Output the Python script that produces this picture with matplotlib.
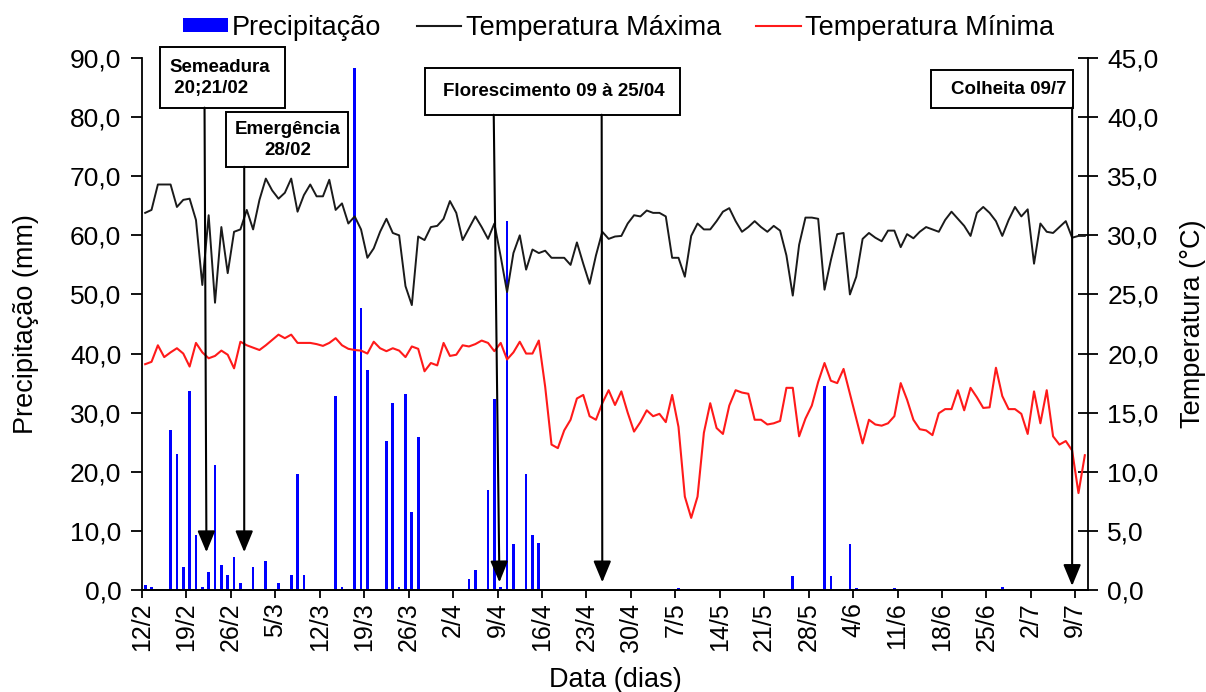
import matplotlib.pyplot as plt
import numpy as np
from matplotlib.patches import Patch, Rectangle
from matplotlib.lines import Line2D
from matplotlib.ticker import FuncFormatter

plt.rcParams['font.family'] = ['Liberation Sans', 'DejaVu Sans']

# dias desde 12/2 (149 dias, até 10/7)
tick_labels = ['12/2', '19/2', '26/2', '5/3', '12/3', '19/3', '26/3', '2/4', '9/4', '16/4', '23/4',
               '30/4', '7/5', '14/5', '21/5', '28/5', '4/6', '11/6', '18/6', '25/6', '2/7', '9/7']

precipitacao = [
    0.8, 0.5, 0, 0, 27.1, 23.0, 3.9, 33.7, 9.3, 0.5,
    3.1, 21.2, 4.3, 2.5, 5.6, 1.2, 0, 3.9, 0, 4.9,
    0, 1.2, 0, 2.6, 19.6, 2.5, 0, 0, 0, 0,
    32.8, 0.5, 0, 88.3, 47.7, 37.2, 0, 0, 25.2, 31.6,
    0.5, 33.1, 13.2, 25.9, 0, 0, 0, 0, 0, 0,
    0, 1.8, 3.4, 0, 16.9, 32.3, 0.5, 62.5, 7.8, 0,
    19.7, 9.3, 8.0, 0, 0, 0, 0, 0, 0, 0,
    0, 0, 0, 0, 0, 0, 0, 0, 0, 0,
    0, 0, 0, 0, 0.3, 0, 0, 0, 0, 0,
    0, 0, 0, 0, 0, 0, 0, 0, 0, 0,
    0, 0, 2.4, 0, 0, 0, 0, 34.5, 2.4, 0,
    0.2, 7.8, 0.3, 0, 0, 0, 0, 0, 0.3, 0,
    0, 0, 0, 0, 0, 0, 0, 0, 0, 0,
    0, 0, 0, 0, 0, 0.5, 0, 0, 0, 0,
    0, 0, 0, 0, 0, 0, 0, 0, 0]

temp_max = [
    31.9, 32.15, 34.3, 34.3, 34.3, 32.4, 33.0, 33.1, 31.3, 25.8,
    31.7, 24.3, 30.7, 26.8, 30.3, 30.5, 32.15, 30.5, 33.0, 34.8,
    33.8, 33.1, 33.6, 34.8, 32.0, 33.4, 34.3, 33.3, 33.3, 34.7,
    32.15, 32.7, 31.0, 31.6, 30.5, 28.1, 28.9, 30.3, 31.4, 30.2,
    30.0, 25.7, 24.1, 29.9, 29.6, 30.7, 30.8, 31.4, 32.9, 31.9,
    29.6, 30.6, 31.6, 30.7, 29.7, 31.0, 28.2, 25.2, 28.5, 30.0,
    27.1, 28.8, 28.5, 28.7, 28.1, 28.1, 28.1, 27.5, 29.4, 27.6,
    25.9, 28.3, 30.3, 29.7, 29.9, 29.95, 31.0, 31.7, 31.6, 32.1,
    31.9, 31.9, 31.6, 28.1, 28.1, 26.5, 29.95, 31.0, 30.5, 30.5,
    31.2, 32.0, 32.3, 31.2, 30.3, 30.7, 31.2, 30.7, 30.3, 30.8,
    30.4, 28.3, 24.9, 29.2, 31.5, 31.5, 31.4, 25.4, 27.9, 30.1,
    30.2, 25.0, 26.5, 29.7, 30.2, 29.8, 29.5, 30.4, 30.4, 29.0,
    30.1, 29.75, 30.3, 30.7, 30.5, 30.3, 31.3, 32.0, 31.4, 30.8,
    29.95, 31.9, 32.4, 31.9, 31.2, 29.95, 31.3, 32.4, 31.6, 32.2,
    27.6, 31.0, 30.3, 30.2, 30.7, 31.2, 29.8, 29.95, 29.95]

temp_min = [
    19.1, 19.3, 20.7, 19.7, 20.1, 20.45, 20.0, 18.9, 20.9, 20.1,
    19.6, 19.8, 20.25, 19.9, 18.75, 21.0, 20.7, 20.5, 20.3, 20.7,
    21.15, 21.6, 21.3, 21.6, 20.9, 20.9, 20.9, 20.8, 20.65, 20.9,
    21.3, 20.7, 20.4, 20.3, 20.25, 20.0, 21.0, 20.45, 20.2, 20.45,
    20.25, 19.7, 20.6, 20.4, 18.5, 19.2, 19.0, 20.9, 19.8, 19.9,
    20.7, 20.6, 20.8, 21.1, 20.9, 20.2, 20.9, 19.5, 20.1, 21.0,
    20.0, 20.0, 21.1, 17.2, 12.3, 12.0, 13.5, 14.4, 16.2, 16.5,
    14.7, 14.4, 15.8, 16.9, 15.65, 16.8, 15.0, 13.4, 14.2, 15.2,
    14.7, 14.9, 14.2, 16.5, 13.8, 7.9, 6.1, 7.9, 13.3, 15.8,
    13.7, 13.2, 15.6, 16.9, 16.7, 16.6, 14.4, 14.4, 14.0, 14.1,
    14.3, 17.1, 17.1, 13.0, 14.5, 15.6, 17.6, 19.2, 17.7, 17.5,
    18.7, 16.6, 14.5, 12.4, 14.4, 14.0, 13.9, 14.1, 14.7, 17.5,
    16.1, 14.4, 13.6, 13.5, 13.1, 14.95, 15.3, 15.3, 16.9, 15.2,
    17.1, 16.3, 15.4, 15.45, 18.8, 16.4, 15.3, 15.3, 14.9, 13.2,
    16.8, 14.1, 16.9, 13.0, 12.3, 12.6, 11.8, 8.2, 11.4]

dias = np.arange(len(precipitacao)) + 0.5

# caixas de anotação: texto, (x0, x1, y0, y1) em dias/mm, posição do texto, setas
eventos = [
    ('Semeadura\n 20;21/02', (2.9, 22.6, 81.6, 91.8), (4.3, 86.6, 'left'), [((9.85, 81.6), (10.15, 6.4))]),
    ('Emergência\n28/02', (13.2, 32.4, 71.6, 80.9), (22.9, 76.1, 'center'), [((16.1, 71.6), (16.1, 6.4))]),
    ('Florescimento 09 à 25/04', (44.6, 84.8, 80.4, 88.3), (64.9, 84.4, 'center'),
     [((55.4, 80.4), (56.3, 1.3)), ((72.4, 80.4), (72.5, 1.3))]),
    ('Colheita 09/7', (124.2, 146.6, 81.6, 88.0), (145.6, 84.7, 'right'), [((146.5, 81.6), (146.5, 0.7))]),
]

fig = plt.figure(figsize=(12.06, 6.92), dpi=100)
ax = fig.add_axes([142 / 1206, 1 - 590 / 692, (1088 - 142) / 1206, (590 - 58) / 692])
ax2 = ax.twinx()

ax.bar(dias, precipitacao, width=0.42, color='#0000ff', zorder=2)
ax2.plot(dias, temp_max, color='#1a1a1a', lw=1.4)
ax2.plot(dias, temp_min, color='#ff1a1a', lw=1.5)

ax.set_xlim(0, len(precipitacao))
ax.set_ylim(0, 90)
ax2.set_ylim(0, 45)
ax.set_xticks(np.arange(len(tick_labels)) * 7)
ax.set_xticklabels(tick_labels, rotation=90)
ax.set_yticks(np.arange(0, 91, 10))
ax2.set_yticks(np.arange(0, 46, 5))
virgula = FuncFormatter(lambda v, p: f'{v:.1f}'.replace('.', ','))
ax.yaxis.set_major_formatter(virgula)
ax2.yaxis.set_major_formatter(virgula)

for a in (ax, ax2):
    a.spines['top'].set_visible(False)
    for s in a.spines.values():
        s.set_linewidth(1.3)
ax.spines['right'].set_visible(False)
ax2.spines['left'].set_visible(False)

ax.tick_params(axis='x', direction='out', length=6, width=1.3, labelsize=18, pad=3)
ax.tick_params(axis='y', direction='out', length=8, width=1.3, labelsize=19, pad=7)
ax2.tick_params(axis='y', direction='inout', length=14, width=1.3, labelsize=19, pad=7)

ax.set_xlabel('Data (dias)', fontsize=19.5, labelpad=11)
ax.set_ylabel('Precipitação (mm)', fontsize=19.5, labelpad=22)
ax2.set_ylabel('Temperatura (°C)', fontsize=19.5, labelpad=15, rotation=90)

for texto, (x0, x1, y0, y1), (tx, ty, ha), setas in eventos:
    ax2.add_patch(Rectangle((x0, y0), x1 - x0, y1 - y0, transform=ax.transData,
                            facecolor='white', edgecolor='black', lw=1.4, clip_on=False, zorder=5))
    ax2.text(tx, ty, texto, transform=ax.transData, ha=ha, va='center', fontsize=13.5,
             fontweight='bold', linespacing=1.35, zorder=6)
    for inicio, fim in setas:
        ax2.annotate('', xy=fim, xytext=inicio, xycoords=ax.transData, textcoords=ax.transData,
                     arrowprops=dict(arrowstyle='-|>,head_length=0.65,head_width=0.27', color='black',
                                     lw=1.5, mutation_scale=20, shrinkA=0, shrinkB=0), zorder=6)

handles = [Patch(facecolor='#0000ff'), Line2D([], [], color='#1a1a1a', lw=1.5),
           Line2D([], [], color='#ff1a1a', lw=1.5)]
fig.legend(handles, ['Precipitação', 'Temperatura Máxima', 'Temperatura Mínima'], loc='center',
           bbox_to_anchor=(0.513, 0.96), ncol=3, frameon=False, fontsize=19.5, handlelength=1.65,
           handleheight=0.45, handletextpad=0.15, columnspacing=1.3)

fig.savefig('out.png', dpi=100)
